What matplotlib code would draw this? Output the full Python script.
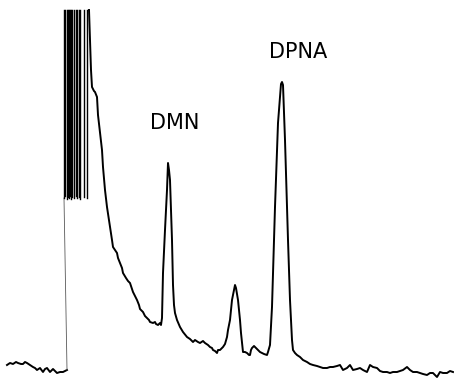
import numpy as np
from matplotlib import pyplot as plt

# chart recorder trace (x = time in px, y = pen position, px from top)
pre_t = [7, 10, 13, 16, 18, 21, 23, 25, 27, 30, 33, 35, 37, 40, 43, 45, 47, 50,
         53, 55, 57, 60, 63, 65, 67]
pre_y = [365, 363, 364, 362, 363, 364, 364, 362, 363, 365, 367, 368, 370, 368,
         372, 369, 368, 372, 369, 371, 373, 372, 372, 371, 370]

# injection burst: pen swings between top and bottom of these strokes
burst_t = [64, 65, 66.5, 67.5, 68.5, 70, 71, 72, 73.5, 76, 77, 78.5, 80, 84, 87]
burst_top = 10
burst_bottom = [198, 196, 199, 197, 198, 196, 199, 197, 198, 196, 198, 197,
                199, 197, 198]

main_t = [89, 90, 91, 92, 94, 95, 97, 98, 100, 102, 103, 105, 107, 109, 110, 112,
          113, 115, 117, 118, 120, 122, 123, 126, 128, 130, 133, 135, 137, 139,
          140, 143, 145, 147, 149, 150, 153, 155, 156, 158, 160, 161, 162, 163,
          165, 167, 168, 169, 170, 172, 173, 174, 175, 177, 180, 183, 187, 190,
          193, 195, 198, 200, 203, 205, 208, 210, 212, 213, 215, 217, 218, 220,
          222, 223, 225, 227, 228, 230, 232, 234, 235, 236, 238, 240, 241, 243,
          245, 247, 249, 250, 251, 252, 254, 255, 257, 258, 260, 262, 264, 267,
          268, 270, 272, 275, 278, 281, 282, 283, 285, 288, 290, 292, 293, 295,
          297, 300, 303, 307, 310, 313, 317, 320, 323, 327, 330, 333, 337, 340,
          343, 347, 350, 353, 357, 360, 363, 367, 370, 373, 377, 380, 383, 387,
          390, 393, 397, 400, 403, 407, 410, 413, 417, 420, 423, 427, 430, 433,
          437, 440, 443, 447, 450, 453]
main_y = [10, 40, 70, 87, 91, 92, 97, 115, 133, 150, 167, 190, 207, 220, 227, 240,
          247, 250, 253, 258, 263, 268, 273, 278, 281, 283, 292, 296, 300, 305,
          309, 312, 316, 318, 320, 322, 323, 322, 324, 325, 323, 325, 318, 273,
          230, 190, 163, 170, 180, 240, 285, 305, 313, 320, 327, 332, 337, 339,
          342, 340, 342, 343, 341, 343, 345, 347, 348, 350, 351, 353, 350, 350,
          348, 347, 344, 337, 330, 320, 300, 290, 285, 288, 300, 320, 333, 352,
          352, 353, 355, 355, 350, 348, 346, 347, 349, 350, 352, 353, 354, 355,
          352, 345, 307, 207, 123, 84, 82, 85, 140, 240, 300, 340, 350, 353,
          355, 357, 360, 362, 364, 365, 366, 367, 368, 368, 367, 367, 366, 365,
          370, 368, 365, 370, 369, 368, 370, 372, 365, 367, 368, 371, 372, 372,
          373, 372, 372, 371, 370, 367, 370, 372, 372, 373, 374, 375, 373, 373,
          377, 372, 373, 373, 371, 372]

labels = ["DMN", "DPNA"]
label_t = [175, 298]
label_y = [123, 52]

fig = plt.figure(figsize=(4.54, 3.84), dpi=100)
ax = fig.add_axes([0, 0, 1, 1])

ax.plot(pre_t, pre_y, color='black', lw=1.4)
# faint rise of the pen from baseline into the burst
ax.plot([pre_t[-1], burst_t[0]], [pre_y[-1], burst_bottom[0]], color='0.35', lw=0.6)

for i, t in enumerate(burst_t):
    ax.plot([t, t], [burst_bottom[i], burst_top], color='black', lw=1.0)

ax.plot(main_t, main_y, color='black', lw=1.4)

for s, t, y in zip(labels, label_t, label_y):
    ax.text(t, y, s, fontsize=15, ha='center', va='center', color='black')

ax.set_xlim(0, 454)
ax.set_ylim(384, 0)
ax.axis('off')

fig.savefig('out.png', dpi=100)
